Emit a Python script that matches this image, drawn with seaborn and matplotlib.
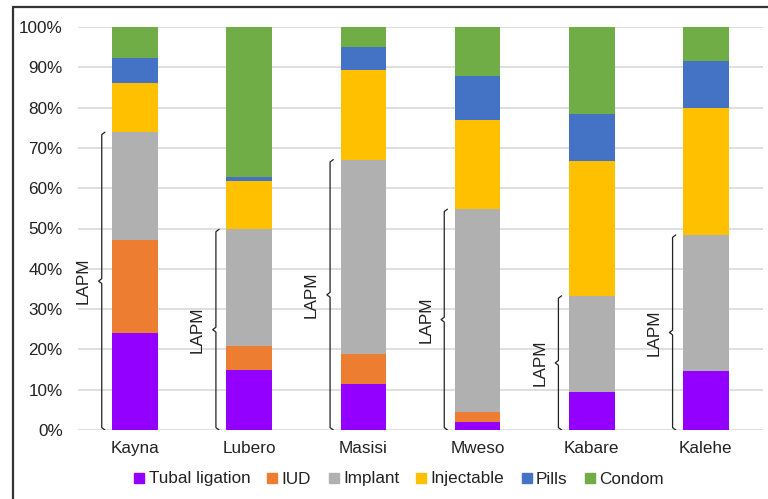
import numpy as np
import pandas as pd
import matplotlib
matplotlib.use("Agg")
import matplotlib.pyplot as plt
from matplotlib.lines import Line2D
import seaborn as sns

# Contraceptive method mix by health zone (% of users)
zones = ["Kayna", "Lubero", "Masisi", "Mweso", "Kabare", "Kalehe"]
methods = ["Tubal ligation", "IUD", "Implant", "Injectable", "Pills", "Condom"]
tubal_ligation = [24.0, 14.9, 11.5, 2.1, 9.5, 14.7]
iud = [23.2, 5.9, 7.3, 2.3, 0.0, 0.0]
implant = [26.7, 29.0, 48.3, 50.4, 23.8, 33.7]
injectable = [12.3, 12.0, 22.2, 22.1, 33.4, 31.6]
pills = [6.2, 1.1, 5.8, 10.9, 11.8, 11.6]
condom = [7.6, 37.1, 4.9, 12.2, 21.5, 8.4]
colors = ["#9400FF", "#ED7D31", "#B0B0B0", "#FFC000", "#4472C4", "#70AD47"]

# Long-acting and permanent methods: tubal ligation, IUD, implant
lapm_label = "LAPM"

sns.set_theme(style="white")
plt.rcParams["font.family"] = ["Liberation Sans", "DejaVu Sans"]

series = [tubal_ligation, iud, implant, injectable, pills, condom]
df = pd.DataFrame({m: v for m, v in zip(methods, series)}, index=zones)
cum = df.cumsum(axis=1)

W, H = 768, 499
fig = plt.figure(figsize=(W / 100, H / 100), dpi=100)
ax = fig.add_axes([78 / W, (H - 430) / H, (763 - 78) / W, (430 - 27) / H])

# Draw stacked bars from the top layer down so each lower layer overlays the total
for m, c in reversed(list(zip(methods, colors))):
    sns.barplot(x=zones, y=cum[m].values, color=c, width=0.4,
                saturation=1, linewidth=0, ax=ax, zorder=3)

fs = 12.3
ax.set_ylim(0, 100)
ax.set_xlim(-0.5, len(zones) - 0.5)
ax.set_yticks(np.arange(0, 101, 10))
ax.set_yticklabels([f"{t}%" for t in range(0, 101, 10)])
ax.yaxis.grid(True, color="#D9D9D9", linewidth=1.2, zorder=0)
ax.set_axisbelow(True)
for s in ax.spines.values():
    s.set_visible(False)
ax.tick_params(axis="y", length=0, pad=11, labelsize=fs, labelcolor="#222222")
ax.tick_params(axis="x", length=0, pad=8, labelsize=fs, labelcolor="#222222")
ax.set_xlabel("")
ax.set_ylabel("")

# Curly braces marking the LAPM share left of each bar
lapm = cum["Implant"].values
hook = 0.028
for i, top in enumerate(lapm):
    xb = i - 0.2 - 0.092
    mid = top / 2
    d = 0.6
    bx = [xb + hook, xb, xb, xb - hook, xb, xb, xb + hook]
    by = [top, top - d, mid + d, mid, mid - d, 0 + d, 0]
    ax.plot(bx, by, color="#222222", linewidth=0.9, zorder=4,
            solid_joinstyle="round")
    ax.text(i - 0.2 - 0.255, mid, lapm_label, rotation=90, ha="center",
            va="center", fontsize=fs, color="#222222")

handles = [Line2D([], [], marker="s", linestyle="none", markersize=7,
                  markerfacecolor=c, markeredgecolor=c) for c in colors]
fig.legend(handles, methods, loc="center", bbox_to_anchor=(399 / W, (H - 479) / H),
           ncol=6, frameon=False, fontsize=fs, handlelength=0.6,
           handletextpad=0.25, columnspacing=1.0, labelcolor="#222222")

# Outer frame edges
fig.add_artist(Line2D([13 / W, 1.0], [(H - 7) / H] * 2, color="#333333", linewidth=1.6))
fig.add_artist(Line2D([13 / W] * 2, [0.0, (H - 7) / H], color="#333333", linewidth=1.6))

fig.savefig("out.png", dpi=100)
